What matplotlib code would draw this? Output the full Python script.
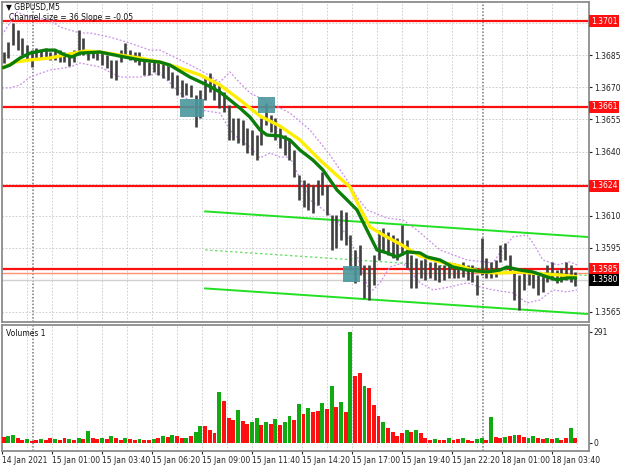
import numpy as np
import matplotlib.pyplot as plt
from matplotlib.patches import Rectangle
import matplotlib.transforms as mtransforms

# GBPUSD M5 in groups of 3 bars
highs = [1.36865, 1.36912, 1.37001, 1.36968, 1.36931, 1.36898, 1.36874, 1.36884, 1.36874, 1.36884,
         1.36865, 1.36874, 1.36874, 1.36865, 1.36851, 1.36874, 1.36968, 1.36931, 1.36874, 1.36874,
         1.36874, 1.36865, 1.36851, 1.36828, 1.36828, 1.36874, 1.36907, 1.36874, 1.36865, 1.36865,
         1.36837, 1.36818, 1.36828, 1.36828, 1.36818, 1.36804, 1.36772, 1.36758, 1.36734, 1.36720,
         1.36711, 1.36664, 1.36688, 1.36744, 1.36767, 1.36734, 1.36711, 1.36678, 1.36617, 1.36557,
         1.36557, 1.36547, 1.36510, 1.36501, 1.36477, 1.36557, 1.36627, 1.36571, 1.36557, 1.36510,
         1.36477, 1.36454, 1.36407, 1.36290, 1.36267, 1.36253, 1.36244, 1.36267, 1.36304, 1.36244,
         1.36103, 1.36103, 1.36127, 1.36117, 1.36010, 1.35940, 1.35963, 1.35870, 1.35870, 1.35917,
         1.36033, 1.36043, 1.36024, 1.36010, 1.35996, 1.36057, 1.35987, 1.35917, 1.35903, 1.35893,
         1.35903, 1.35884, 1.35884, 1.35870, 1.35870, 1.35884, 1.35879, 1.35870, 1.35884, 1.35870,
         1.35870, 1.35823, 1.35996, 1.35903, 1.35884, 1.35893, 1.35963, 1.35973, 1.35917, 1.35846,
         1.35823, 1.35856, 1.35846, 1.35837, 1.35823, 1.35823, 1.35870, 1.35884, 1.35846, 1.35856,
         1.35884, 1.35870, 1.35837]
lows = [1.36814, 1.36837, 1.36898, 1.36874, 1.36851, 1.36828, 1.36795, 1.36828, 1.36837, 1.36837,
        1.36828, 1.36828, 1.36818, 1.36818, 1.36800, 1.36818, 1.36851, 1.36851, 1.36828, 1.36837,
        1.36828, 1.36804, 1.36790, 1.36744, 1.36734, 1.36818, 1.36837, 1.36828, 1.36818, 1.36804,
        1.36758, 1.36758, 1.36772, 1.36758, 1.36744, 1.36734, 1.36697, 1.36664, 1.36655, 1.36664,
        1.36655, 1.36515, 1.36557, 1.36641, 1.36678, 1.36641, 1.36603, 1.36585, 1.36454, 1.36454,
        1.36440, 1.36431, 1.36393, 1.36384, 1.36361, 1.36431, 1.36524, 1.36491, 1.36454, 1.36416,
        1.36384, 1.36361, 1.36281, 1.36174, 1.36141, 1.36127, 1.36113, 1.36150, 1.36197, 1.36103,
        1.35940, 1.35949, 1.35987, 1.35963, 1.35846, 1.35786, 1.35823, 1.35716, 1.35706, 1.35776,
        1.35893, 1.35931, 1.35917, 1.35903, 1.35893, 1.35917, 1.35856, 1.35762, 1.35762, 1.35809,
        1.35800, 1.35809, 1.35800, 1.35790, 1.35800, 1.35809, 1.35809, 1.35809, 1.35814, 1.35800,
        1.35790, 1.35730, 1.35823, 1.35809, 1.35809, 1.35814, 1.35884, 1.35893, 1.35832, 1.35706,
        1.35660, 1.35753, 1.35776, 1.35762, 1.35730, 1.35744, 1.35790, 1.35800, 1.35786, 1.35790,
        1.35800, 1.35790, 1.35772]

volumes = [15, 18, 22, 12, 8, 10, 6, 8, 10, 8,
           12, 10, 9, 12, 10, 8, 14, 10, 32, 14,
           10, 12, 10, 18, 12, 8, 12, 10, 8, 10,
           8, 9, 10, 14, 18, 16, 20, 18, 14, 12,
           18, 28, 45, 45, 35, 25, 133, 110, 65, 60,
           87, 58, 50, 55, 65, 48, 55, 50, 63, 48,
           55, 70, 60, 102, 75, 91, 80, 85, 104, 90,
           148, 95, 108, 82, 291, 175, 182, 150, 143, 100,
           70, 55, 40, 30, 18, 25, 35, 28, 33, 25,
           12, 8, 10, 7, 9, 12, 8, 10, 12, 7,
           6, 10, 14, 8, 67, 15, 12, 15, 18, 22,
           20, 15, 12, 18, 12, 10, 14, 10, 12, 9,
           12, 38, 12]
vol_dir = ("rggrrgrrgr" "rgrrgrgrgr" "rgrgrrgrrg" "rrgrgrgrrg" "rggrrrgrrr"
           "grrggrgrgr" "ggrgrgrrgr" "grgrgrrgrr" "rgrrrrgrgr" "rrgrrgrrgr"
           "rggrgrrgrg" "rrggrrgrgr" "rgr")

# moving averages (bar index, price)
ma_slow_x = [0, 8.3, 17.9, 30.7, 43.5, 53.1, 62.7, 75.5, 88.3, 101.1, 113.9, 126.7, 139.5, 152.3,
             165.1, 177.9, 190.7, 203.5, 216.3, 222.7, 229.1, 235.5, 245.1, 254.7, 267.5, 280.3,
             293.1, 305.9, 318.7, 331.5, 344.3, 357.1, 368]
ma_slow = [1.36790, 1.36818, 1.36828, 1.36837, 1.36856, 1.36870, 1.36865, 1.36851, 1.36837, 1.36818,
           1.36790, 1.36758, 1.36711, 1.36641, 1.36566, 1.36519, 1.36454, 1.36360, 1.36276, 1.36234,
           1.36136, 1.36047, 1.36005, 1.35968, 1.35912, 1.35884, 1.35865, 1.35837, 1.35832, 1.35837,
           1.35828, 1.35823, 1.35814]
ma_fast_x = [0, 5.1, 11.5, 17.9, 27.5, 33.9, 40.3, 44.8, 49.9, 62.7, 75.5, 88.3, 101.1, 107.5, 120.3,
             131.2, 139.5, 145.9, 152.3, 158.7, 165.1, 169.6, 177.9, 184.3, 190.7, 199.0, 205.4, 209.9,
             214.4, 220.8, 227.2, 233.6, 240.0, 246.4, 252.8, 259.2, 267.5, 272.0, 280.3, 288.6, 297.6,
             310.4, 318.7, 323.2, 331.5, 339.8, 348.8, 355.2, 361.6, 368.0]
ma_fast = [1.36790, 1.36804, 1.36837, 1.36860, 1.36874, 1.36874, 1.36851, 1.36842, 1.36860, 1.36865,
           1.36846, 1.36828, 1.36818, 1.36804, 1.36748, 1.36711, 1.36678, 1.36641, 1.36603, 1.36561,
           1.36501, 1.36477, 1.36473, 1.36454, 1.36407, 1.36360, 1.36314, 1.36267, 1.36220, 1.36174,
           1.36127, 1.36033, 1.35940, 1.35926, 1.35907, 1.35931, 1.35926, 1.35907, 1.35893, 1.35860,
           1.35846, 1.35837, 1.35846, 1.35860, 1.35846, 1.35837, 1.35814, 1.35800, 1.35809, 1.35809]

# envelope bands
band_up_x = [0, 9.6, 17.9, 30.7, 37.1, 49.9, 56.3, 69.1, 81.9, 94.7, 101.1, 113.9, 126.7, 139.5,
             145.9, 152.3, 158.7, 171.5, 184.3, 197.1, 209.9, 220.8, 227.2, 233.6, 246.4, 256.6,
             265.6, 280.3, 297.6, 314.2, 318.7, 327.0, 336.0, 339.8, 346.2, 355.2, 363.5, 368.0]
band_up = [1.36945, 1.37052, 1.37029, 1.37015, 1.36982, 1.36954, 1.36954, 1.36935, 1.36907, 1.36874,
           1.36874, 1.36828, 1.36781, 1.36725, 1.36772, 1.36720, 1.36674, 1.36627, 1.36580, 1.36501,
           1.36384, 1.36267, 1.36188, 1.36127, 1.36089, 1.36080, 1.36033, 1.35940, 1.35893, 1.35879,
           1.35926, 1.36001, 1.36010, 1.35973, 1.35893, 1.35870, 1.35884, 1.35870]
band_lo_x = [0, 5.1, 11.5, 17.9, 30.7, 43.5, 49.9, 62.7, 75.5, 88.3, 101.1, 113.9, 126.7, 139.5,
             145.9, 152.3, 158.7, 165.1, 171.5, 177.9, 184.3, 197.1, 214.4, 225.9, 235.5, 241.9,
             248.3, 256.6, 267.5, 275.8, 286.7, 297.6, 305.9, 314.2, 327.0, 336.0, 344.3, 352.6,
             361.6, 368.0]
band_lo = [1.36697, 1.36697, 1.36711, 1.36748, 1.36781, 1.36795, 1.36814, 1.36795, 1.36748, 1.36748,
           1.36767, 1.36674, 1.36594, 1.36580, 1.36501, 1.36454, 1.36421, 1.36370, 1.36393, 1.36374,
           1.36374, 1.36174, 1.36080, 1.35940, 1.35739, 1.35786, 1.35860, 1.35879, 1.35786, 1.35753,
           1.35767, 1.35786, 1.35767, 1.35753, 1.35739, 1.35692, 1.35706, 1.35753, 1.35744, 1.35753]

levels = [1.3701, 1.3661, 1.3624, 1.3585]
last_price = 1.3580
price_ticks = [1.3565, 1.3595, 1.3610, 1.3640, 1.3655, 1.3670, 1.3685]
time_labels = ["14 Jan 2021", "15 Jan 01:00", "15 Jan 03:40", "15 Jan 06:20", "15 Jan 09:00",
               "15 Jan 11:40", "15 Jan 14:20", "15 Jan 17:00", "15 Jan 19:40", "15 Jan 22:20",
               "18 Jan 01:00", "18 Jan 03:40"]
day_breaks = [20, 308]
channel_x = [130, 375.7]
channel_top = [1.36120, 1.36000]
channel_size = 0.0036
zones = [(114, 129, 1.36560, 1.36645), (164, 175, 1.36580, 1.36655), (218, 229, 1.35790, 1.35865)]

plt.rcParams['font.family'] = 'DejaVu Sans'
fig = plt.figure(figsize=(6.2, 4.65), dpi=100)
ax = fig.add_axes([2/620, 1 - 322/465, 587/620, 320/465])
axv = fig.add_axes([2/620, 1 - 451/465, 587/620, 126/465], sharex=ax)

bar_x = np.arange(len(highs)) * 3 + 1
n_bars = 376

for a in (ax, axv):
    for s in a.spines.values():
        s.set_color('#8c8c8c')
        s.set_linewidth(1.3)
    for i in range(16, n_bars, 16):
        a.axvline(i, color='#c8c8c8', lw=0.6, ls=(0, (2, 2)), zorder=0)
    for d in day_breaks:
        a.axvline(d, color='#777777', lw=1.1, ls=(0, (1, 1.2)), zorder=0.5)

for p in np.arange(1.3565, 1.3705, 0.0015):
    ax.axhline(p, color='#c8c8c8', lw=0.6, ls=(0, (2, 2)), zorder=0)

# levels
for lv in levels:
    ax.axhline(lv, color='#ff1010', lw=1.6, zorder=2)
ax.axhline(1.35832, color='#ff9070', lw=1.0, zorder=2)
ax.axhline(last_price, color='#d0d0d0', lw=1.0, zorder=1.5)

# regression channel
ax.plot(channel_x, channel_top, color='#22e022', lw=1.4, zorder=2)
ax.plot(channel_x, [c - channel_size for c in channel_top], color='#22e022', lw=1.4, zorder=2)
ax.plot(channel_x, [c - channel_size / 2 for c in channel_top], color='#66dd66', lw=0.9,
        ls=(0, (2, 2)), zorder=2)

# envelopes
ax.plot(band_up_x, band_up, color='#c890e8', lw=0.9, ls=(0, (1.5, 1.5)), zorder=2.5)
ax.plot(band_lo_x, band_lo, color='#c890e8', lw=0.9, ls=(0, (1.5, 1.5)), zorder=2.5)

# price bars
ax.vlines(bar_x, lows, highs, color='#404040', lw=1.9, zorder=3)

ax.plot(ma_slow_x, ma_slow, color='#ffee00', lw=2.4, zorder=4, solid_capstyle='butt')
ax.plot(ma_fast_x, ma_fast, color='#0a7d0a', lw=2.4, zorder=5, solid_capstyle='butt')

for x0, x1, y0, y1 in zones:
    ax.add_patch(Rectangle((x0, y0), x1 - x0, y1 - y0, facecolor='#4a979c', edgecolor='none',
                           alpha=0.9, zorder=6))

ax.set_xlim(0, n_bars - 0.3)
ax.set_ylim(1.35603, 1.37099)

ax.yaxis.tick_right()
ax.set_yticks(price_ticks)
ax.set_yticklabels([f"{p:.4f}" for p in price_ticks])
ax.tick_params(axis='y', labelsize=5.5, length=2, pad=1.5, colors='#222222')
ax.tick_params(axis='x', bottom=False, labelbottom=False)

trans = mtransforms.blended_transform_factory(ax.transAxes, ax.transData)
for lv in levels:
    ax.text(1.003, lv, f"{lv:.4f}", transform=trans, fontsize=5.5, color='white', va='center',
            ha='left', bbox=dict(boxstyle='square,pad=0.2', fc='#ff1010', ec='none'), zorder=7)
ax.text(1.003, last_price, f"{last_price:.4f}", transform=trans, fontsize=5.5, color='white',
        va='center', ha='left', bbox=dict(boxstyle='square,pad=0.2', fc='black', ec='none'), zorder=7)

ax.text(0.006, 0.983, "\u25bc GBPUSD,M5", transform=ax.transAxes, fontsize=5.5, va='center',
        color='#111111', zorder=8)
ax.text(0.012, 0.95, "Channel size = 36 Slope = -0.05", transform=ax.transAxes, fontsize=5.5,
        va='center', color='#111111', zorder=8)

# volume
vol_colors = ['#11aa11' if c == 'g' else '#ff1010' for c in vol_dir]
axv.bar(bar_x, volumes, width=2.5, color=vol_colors, zorder=3)
axv.set_ylim(-21, 309)
axv.yaxis.tick_right()
axv.set_yticks([0, 291])
axv.set_yticklabels(["0", "291"])
axv.tick_params(axis='y', labelsize=5.5, length=2, pad=1.5, colors='#222222')
axv.set_xticks(np.arange(0, 32 * len(time_labels), 32))
axv.set_xticklabels(time_labels, ha='left')
axv.tick_params(axis='x', labelsize=5.5, length=2, pad=1.5, colors='#222222')
axv.text(0.006, 0.93, "Volumes 1", transform=axv.transAxes, fontsize=5.5, va='center', color='#111111')

fig.savefig("out.png", dpi=100)
